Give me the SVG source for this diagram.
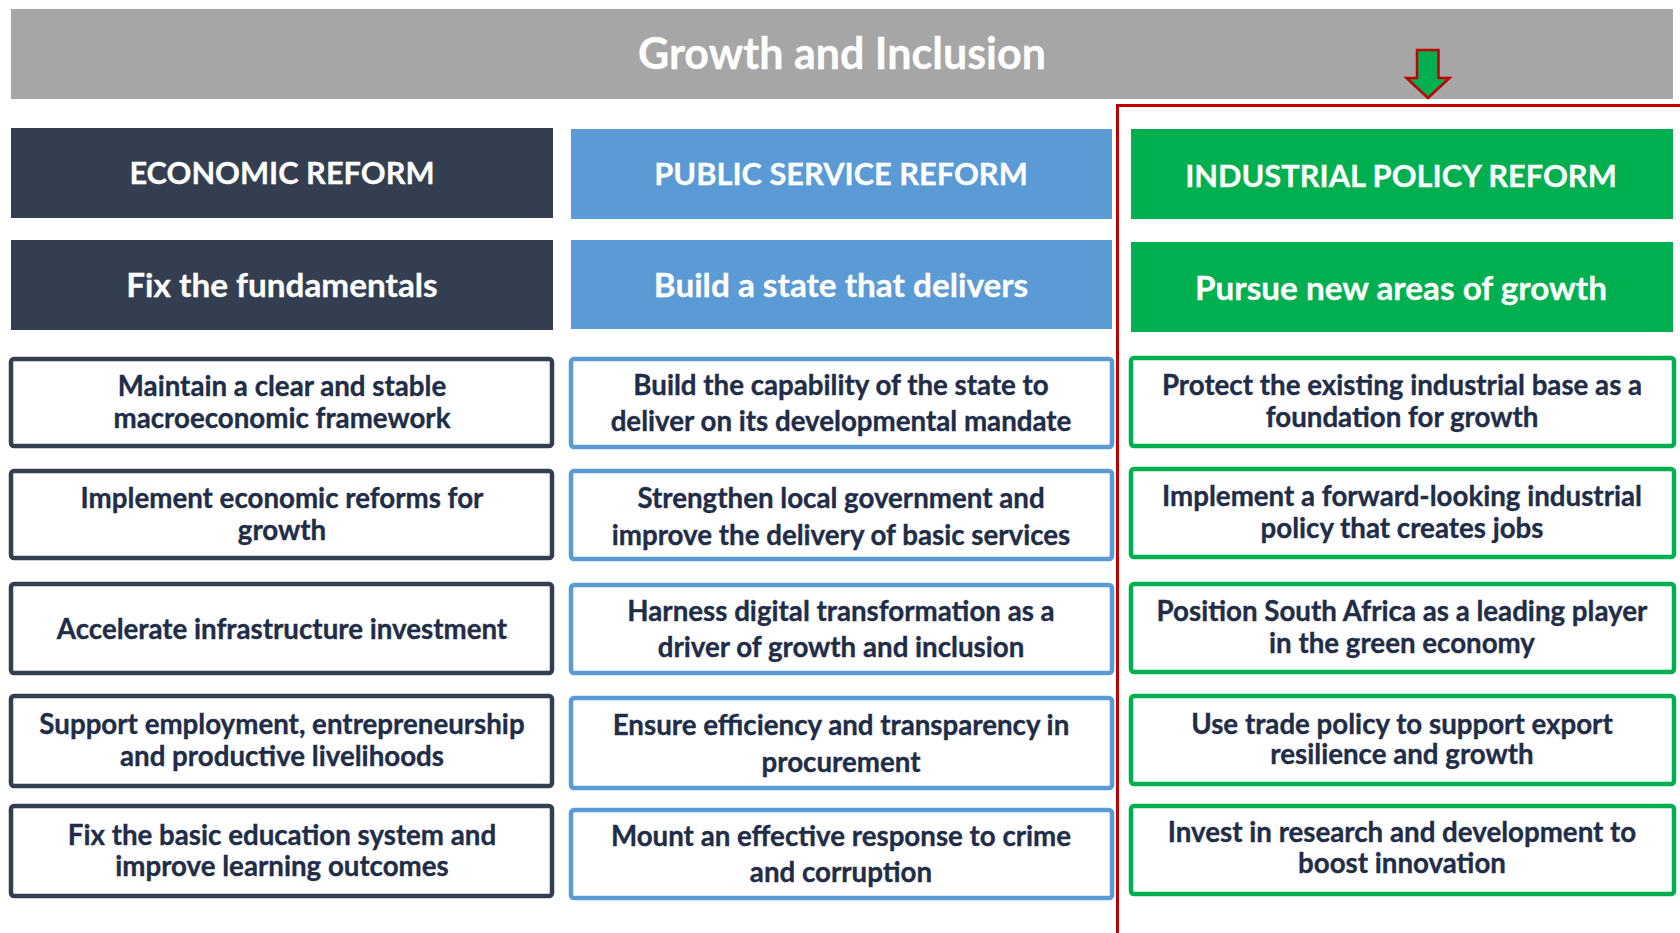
<svg xmlns="http://www.w3.org/2000/svg" width="1680" height="933" viewBox="0 0 1680 933">
<style>
.t{font-family:Lato,"Open Sans","Liberation Sans",sans-serif;font-weight:bold;text-anchor:middle}
.hd{font-size:30.8px;fill:#fff;stroke:#fff;stroke-width:0.3}
.sb{font-size:33.3px;fill:#fff;stroke:#fff;stroke-width:0.3}
.dt{font-size:27.7px;fill:#1f2d48;stroke:#1f2d48;stroke-width:0.35}
.b1{fill:#fff;stroke:#333f50;stroke-width:4.5}
.b2{fill:#fff;stroke:#5b9bd5;stroke-width:4.5}
.b3{fill:#fff;stroke:#00b050;stroke-width:4.5}
</style>
<rect width="1680" height="933" fill="#fff"/>
<g id="title">
<rect x="11" y="9" width="1662" height="90" fill="#a6a6a6"/>
<text class="t" x="842" y="69" font-size="43" fill="#fff" stroke="#fff" stroke-width="0.3">Growth and Inclusion</text>
</g>
<g id="frame">
<rect x="1117.5" y="105.5" width="600" height="900" fill="none" stroke="#c00000" stroke-width="3"/>
</g>
<g id="arrow">
<path d="M1417,50 L1438.5,50 L1438.5,78 L1449.5,78 L1428,98 L1406.5,78 L1417,78 Z" fill="#00b050" stroke="#c00000" stroke-width="2.5" stroke-linejoin="miter"/>
</g>
<g id="col1-header">
<rect x="11" y="128" width="542" height="90" fill="#333f50"/>
<text class="t hd" x="282" y="184">ECONOMIC REFORM</text>
</g>
<g id="col1-sub">
<rect x="11" y="240" width="542" height="90" fill="#333f50"/>
<text class="t sb" x="282" y="297">Fix the fundamentals</text>
</g>
<g id="col2-header">
<rect x="571" y="129" width="541" height="90" fill="#5b9bd5"/>
<text class="t hd" x="841" y="185">PUBLIC SERVICE REFORM</text>
</g>
<g id="col2-sub">
<rect x="571" y="240" width="541" height="89" fill="#5b9bd5"/>
<text class="t sb" x="841" y="297">Build a state that delivers</text>
</g>
<g id="col3-header">
<rect x="1131" y="129" width="542" height="90" fill="#00b050"/>
<text class="t hd" x="1401" y="187">INDUSTRIAL POLICY REFORM</text>
</g>
<g id="col3-sub">
<rect x="1131" y="242" width="542" height="90" fill="#00b050"/>
<text class="t sb" x="1401" y="300">Pursue new areas of growth</text>
</g>

<g id="c1r1"><rect class="b1" x="11" y="359" width="541" height="87" rx="3"/>
<text class="t dt" x="282" y="396">Maintain a clear and stable</text><text class="t dt" x="282" y="428">macroeconomic framework</text></g>
<g id="c1r2"><rect class="b1" x="11" y="471" width="541" height="87" rx="3"/>
<text class="t dt" x="282" y="508">Implement economic reforms for</text><text class="t dt" x="282" y="540">growth</text></g>
<g id="c1r3"><rect class="b1" x="11" y="584" width="541" height="89" rx="3"/>
<text class="t dt" x="282" y="639">Accelerate infrastructure investment</text></g>
<g id="c1r4"><rect class="b1" x="11" y="696" width="541" height="90" rx="3"/>
<text class="t dt" x="282" y="734">Support employment, entrepreneurship</text><text class="t dt" x="282" y="766">and productive livelihoods</text></g>
<g id="c1r5"><rect class="b1" x="11" y="806" width="541" height="90" rx="3"/>
<text class="t dt" x="282" y="845">Fix the basic education system and</text><text class="t dt" x="282" y="876">improve learning outcomes</text></g>

<g id="c2r1"><rect class="b2" x="571" y="359" width="541" height="88" rx="3"/>
<text class="t dt" x="841" y="395">Build the capability of the state to</text><text class="t dt" x="841" y="431">deliver on its developmental mandate</text></g>
<g id="c2r2"><rect class="b2" x="571" y="471" width="541" height="88" rx="3"/>
<text class="t dt" x="841" y="508">Strengthen local government and</text><text class="t dt" x="841" y="545">improve the delivery of basic services</text></g>
<g id="c2r3"><rect class="b2" x="571" y="585" width="541" height="88" rx="3"/>
<text class="t dt" x="841" y="621">Harness digital transformation as a</text><text class="t dt" x="841" y="657">driver of growth and inclusion</text></g>
<g id="c2r4"><rect class="b2" x="571" y="698" width="541" height="90" rx="3"/>
<text class="t dt" x="841" y="735">Ensure efficiency and transparency in</text><text class="t dt" x="841" y="772">procurement</text></g>
<g id="c2r5"><rect class="b2" x="571" y="810" width="541" height="88" rx="3"/>
<text class="t dt" x="841" y="846">Mount an effective response to crime</text><text class="t dt" x="841" y="882">and corruption</text></g>

<g id="c3r1"><rect class="b3" x="1131" y="358" width="543" height="88" rx="3"/>
<text class="t dt" x="1402" y="395">Protect the existing industrial base as a</text><text class="t dt" x="1402" y="427">foundation for growth</text></g>
<g id="c3r2"><rect class="b3" x="1131" y="469" width="543" height="88" rx="3"/>
<text class="t dt" x="1402" y="506">Implement a forward-looking industrial</text><text class="t dt" x="1402" y="538">policy that creates jobs</text></g>
<g id="c3r3"><rect class="b3" x="1131" y="584" width="543" height="88" rx="3"/>
<text class="t dt" x="1402" y="621">Position South Africa as a leading player</text><text class="t dt" x="1402" y="653">in the green economy</text></g>
<g id="c3r4"><rect class="b3" x="1131" y="696" width="543" height="88" rx="3"/>
<text class="t dt" x="1402" y="734">Use trade policy to support export</text><text class="t dt" x="1402" y="764">resilience and growth</text></g>
<g id="c3r5"><rect class="b3" x="1131" y="806" width="543" height="88" rx="3"/>
<text class="t dt" x="1402" y="842">Invest in research and development to</text><text class="t dt" x="1402" y="873">boost innovation</text></g>
<g id="connectors"/>
</svg>
